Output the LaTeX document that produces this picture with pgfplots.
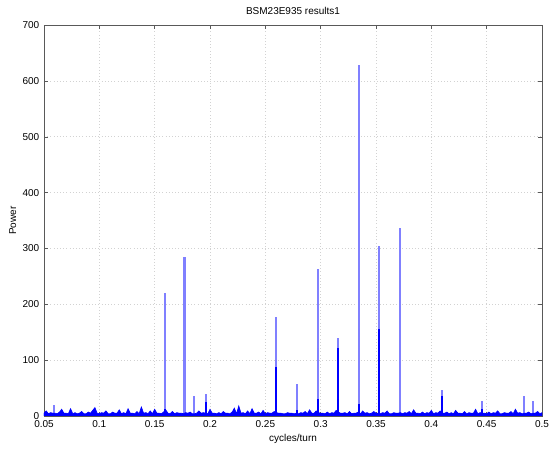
\documentclass[border=0pt]{standalone}
\usepackage{pgfplots}
\pgfplotsset{compat=1.18}
\usepackage{fontspec}
\setmainfont{Liberation Sans}
\begin{document}
\begin{tikzpicture}
\useasboundingbox (-33pt,-27pt) rectangle (381pt,312pt);
\begin{axis}[
  at={(0pt,0pt)}, anchor=south west,
  scale only axis, width=373.5pt, height=293.25pt,
  xmin=0.05, xmax=0.5, ymin=0, ymax=700,
  xtick={0.05,0.1,0.15,0.2,0.25,0.3,0.35,0.4,0.45,0.5},
  xticklabels={0.05,0.1,0.15,0.2,0.25,0.3,0.35,0.4,0.45,0.5},
  ytick={0,100,200,300,400,500,600,700},
  /pgf/number format/assume math mode=true,
  tick label style={font=\fontsize{7.5}{8}\selectfont},
  label style={font=\fontsize{7.5}{8}\selectfont},
  title style={font=\fontsize{7.5}{8}\selectfont, yshift=-2pt},
  title={BSM23E935 results1},
  xlabel={cycles/turn}, ylabel={Power},
  xlabel style={yshift=2pt}, ylabel style={yshift=-2pt},
  grid=major, major grid style={gray!35, dotted, line width=0.4pt},
  tick align=inside, major tick length=3pt,
  axis line style={gray!70!black, line width=0.4pt},
  every tick/.style={gray!70!black, line width=0.3pt},
  clip=true,
]
% light (full height) spikes
\addplot[ycomb, blue!50, line width=1.6pt, mark=none] coordinates {
(0.0590,20) (0.1593,220) (0.1770,285) (0.1855,36) (0.1960,39) (0.2600,178)
(0.2786,58) (0.2973,264) (0.3160,140) (0.3346,628) (0.3530,305) (0.3717,337)
(0.4094,46) (0.4460,27) (0.4840,35) (0.4915,26)
};
% darker lower parts of spikes
\addplot[ycomb, blue, line width=1.6pt, mark=none] coordinates {
(0.1593,12) (0.1960,25) (0.2600,88) (0.2973,30) (0.3160,122) (0.3346,22)
(0.3530,155) (0.4094,35) (0.2786,10) (0.4460,12)
};
% noise floor
\addplot[blue, fill=blue, line width=0.5pt, mark=none] coordinates {
(0.050,0) (0.050,5) (0.052,9) (0.054,4) (0.056,6) (0.058,5) (0.060,5) (0.062,4) (0.064,7)
(0.066,12) (0.068,5) (0.070,5) (0.072,4) (0.074,13) (0.076,4) (0.078,6) (0.080,4)
(0.082,5) (0.084,8) (0.086,4) (0.088,4) (0.090,7) (0.092,5) (0.094,10) (0.096,15)
(0.098,5) (0.100,4) (0.102,6) (0.104,5) (0.106,9) (0.108,4) (0.110,4) (0.112,7)
(0.114,5) (0.116,5) (0.118,11) (0.120,4) (0.122,6) (0.124,4) (0.126,13) (0.128,5)
(0.130,5) (0.132,4) (0.134,8) (0.136,4) (0.138,16) (0.140,5) (0.142,6) (0.144,4)
(0.146,9) (0.148,4) (0.150,12) (0.152,5) (0.154,5) (0.156,4) (0.158,7) (0.160,11)
(0.162,5) (0.164,4) (0.166,8) (0.168,4) (0.170,6) (0.172,5) (0.174,5) (0.176,4)
(0.178,6) (0.180,5) (0.182,7) (0.184,4) (0.186,4) (0.188,5) (0.190,9) (0.192,5)
(0.194,6) (0.196,5) (0.198,4) (0.200,12) (0.202,5) (0.204,5) (0.206,4) (0.208,6)
(0.210,4) (0.212,8) (0.214,5) (0.216,5) (0.218,4) (0.220,7) (0.222,14) (0.224,4)
(0.226,18) (0.228,5) (0.230,6) (0.232,4) (0.234,9) (0.236,4) (0.238,13) (0.240,5)
(0.242,5) (0.244,7) (0.246,4) (0.248,10) (0.250,4) (0.252,6) (0.254,5) (0.256,5)
(0.258,8) (0.260,6) (0.262,5) (0.264,5) (0.266,4) (0.268,4) (0.270,6) (0.272,5)
(0.274,5) (0.276,4) (0.278,5) (0.280,4) (0.282,6) (0.284,5) (0.286,8) (0.288,4)
(0.290,11) (0.292,5) (0.294,5) (0.296,9) (0.298,6) (0.300,5) (0.302,5) (0.304,4)
(0.306,7) (0.308,4) (0.310,6) (0.312,5) (0.314,10) (0.316,7) (0.318,5) (0.320,5)
(0.322,6) (0.324,4) (0.326,8) (0.328,4) (0.330,5) (0.332,5) (0.334,7) (0.336,4)
(0.338,9) (0.340,5) (0.342,6) (0.344,4) (0.346,5) (0.348,8) (0.350,5) (0.352,5)
(0.354,4) (0.356,6) (0.358,5) (0.360,9) (0.362,4) (0.364,4) (0.366,6) (0.368,5)
(0.370,5) (0.372,6) (0.374,4) (0.376,6) (0.378,5) (0.380,8) (0.382,4) (0.384,11)
(0.386,5) (0.388,5) (0.390,4) (0.392,7) (0.394,4) (0.396,6) (0.398,5) (0.400,10)
(0.402,4) (0.404,6) (0.406,5) (0.408,9) (0.410,5) (0.412,5) (0.414,7) (0.416,4)
(0.418,6) (0.420,4) (0.422,10) (0.424,5) (0.426,5) (0.428,4) (0.430,8) (0.432,4)
(0.434,6) (0.436,5) (0.438,5) (0.440,12) (0.442,4) (0.444,6) (0.446,5) (0.448,5)
(0.450,4) (0.452,7) (0.454,4) (0.456,6) (0.458,5) (0.460,9) (0.462,4) (0.464,4)
(0.466,6) (0.468,5) (0.470,5) (0.472,8) (0.474,4) (0.476,12) (0.478,5) (0.480,6)
(0.482,4) (0.484,5) (0.486,5) (0.488,7) (0.490,4) (0.492,5) (0.494,5) (0.496,8)
(0.498,4) (0.500,6) (0.500,0)
} \closedcycle;
\end{axis}
\end{tikzpicture}
\end{document}
